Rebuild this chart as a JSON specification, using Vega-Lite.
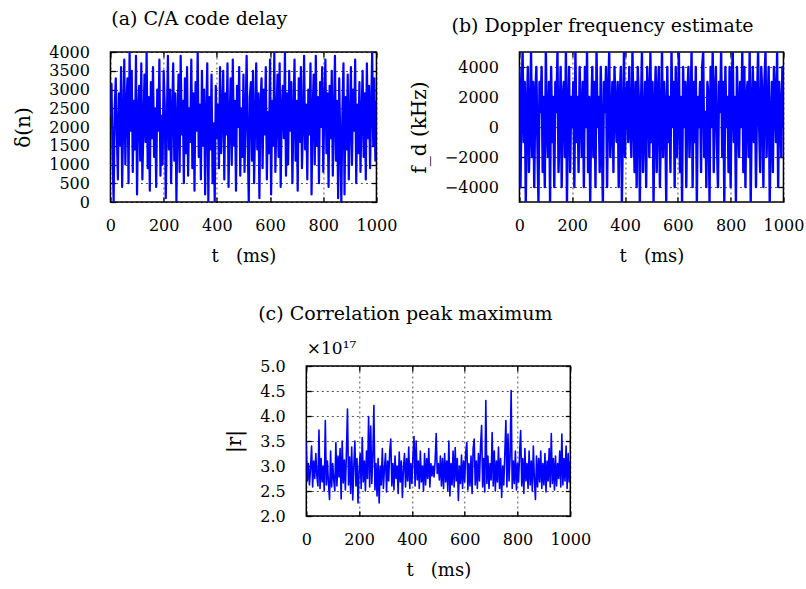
{
"$schema": "https://vega.github.io/schema/vega-lite/v6.json",
"background": "white",
"padding": {"left": 12, "top": 9, "right": 0, "bottom": 5},
"config": {
  "font": "DejaVu Serif",
  "view": {"stroke": "#000", "strokeWidth": 1.5},
  "title": {"font": "DejaVu Serif", "fontSize": 19, "fontWeight": "normal", "color": "#000", "offset": 15, "frame": "bounds", "anchor": "middle"},
  "axis": {"domain": false, "grid": true, "gridColor": "#000", "gridDash": [2, 3], "gridWidth": 0.8, "gridOpacity": 0.85,
           "ticks": true, "tickSize": -5, "tickWidth": 1.3, "tickColor": "#000",
           "labelFont": "DejaVu Serif", "labelFontSize": 16, "labelColor": "#000", "labelFlush": false, "labelOverlap": false,
           "titleFont": "DejaVu Serif", "titleFontSize": 18, "titleFontWeight": "normal", "titleColor": "#000", "zindex": 1},
  "axisX": {"labelPadding": 20, "titlePadding": 14, "format": "d"},
  "axisY": {"labelPadding": 26, "titlePadding": 15, "titleFontSize": 20}
},
"datasets": {
"a": [
{"t":0,"v":2300},{"t":4,"v":3150},{"t":8,"v":1200},{"t":12,"v":0},{"t":16,"v":2500},{"t":20,"v":3300},{"t":24,"v":1800},{"t":28,"v":600},{"t":32,"v":2900},{"t":36,"v":1500},
{"t":40,"v":3600},{"t":44,"v":400},{"t":48,"v":2200},{"t":52,"v":3800},{"t":56,"v":1000},{"t":60,"v":2600},{"t":64,"v":3300},{"t":68,"v":500},{"t":72,"v":4000},{"t":76,"v":1900},
{"t":80,"v":3500},{"t":84,"v":800},{"t":88,"v":2700},{"t":92,"v":1400},{"t":96,"v":3900},{"t":100,"v":200},{"t":104,"v":2400},{"t":108,"v":3100},{"t":112,"v":1100},{"t":116,"v":3700},
{"t":120,"v":600},{"t":124,"v":2000},{"t":128,"v":3400},{"t":132,"v":1600},{"t":136,"v":4000},{"t":140,"v":900},{"t":144,"v":2800},{"t":148,"v":300},{"t":152,"v":3200},{"t":156,"v":1700},
{"t":160,"v":3600},{"t":164,"v":1200},{"t":168,"v":2500},{"t":172,"v":400},{"t":176,"v":3000},{"t":180,"v":1900},{"t":184,"v":3800},{"t":188,"v":700},{"t":192,"v":2300},{"t":196,"v":1000},
{"t":200,"v":3500},{"t":204,"v":2600},{"t":208,"v":100},{"t":212,"v":2100},{"t":216,"v":3900},{"t":220,"v":1400},{"t":224,"v":3000},{"t":228,"v":500},{"t":232,"v":2400},{"t":236,"v":3700},
{"t":240,"v":1100},{"t":244,"v":2900},{"t":248,"v":0},{"t":252,"v":2200},{"t":256,"v":3400},{"t":260,"v":800},{"t":264,"v":3900},{"t":268,"v":1800},{"t":272,"v":2700},{"t":276,"v":500},
{"t":280,"v":3300},{"t":284,"v":1300},{"t":288,"v":3600},{"t":292,"v":700},{"t":296,"v":2500},{"t":300,"v":1600},{"t":304,"v":3800},{"t":308,"v":900},{"t":312,"v":2900},{"t":316,"v":300},
{"t":320,"v":3200},{"t":324,"v":1900},{"t":328,"v":4000},{"t":332,"v":1200},{"t":336,"v":2600},{"t":340,"v":600},{"t":344,"v":3500},{"t":348,"v":1500},{"t":352,"v":3000},{"t":356,"v":200},
{"t":360,"v":2300},{"t":364,"v":3700},{"t":368,"v":0},{"t":372,"v":2800},{"t":376,"v":1400},{"t":380,"v":3400},{"t":384,"v":500},{"t":388,"v":2100},{"t":392,"v":0},{"t":396,"v":3100},
{"t":400,"v":1700},{"t":404,"v":2600},{"t":408,"v":900},{"t":412,"v":3600},{"t":416,"v":1300},{"t":420,"v":2400},{"t":424,"v":3500},{"t":428,"v":600},{"t":432,"v":2900},{"t":436,"v":1800},
{"t":440,"v":3700},{"t":444,"v":400},{"t":448,"v":2200},{"t":452,"v":3300},{"t":456,"v":1000},{"t":460,"v":3800},{"t":464,"v":1500},{"t":468,"v":2700},{"t":472,"v":300},{"t":476,"v":3100},
{"t":480,"v":2000},{"t":484,"v":3600},{"t":488,"v":700},{"t":492,"v":2500},{"t":496,"v":1200},{"t":500,"v":3400},{"t":504,"v":800},{"t":508,"v":2300},{"t":512,"v":3900},{"t":516,"v":1600},
{"t":520,"v":0},{"t":524,"v":2800},{"t":528,"v":3200},{"t":532,"v":1100},{"t":536,"v":3500},{"t":540,"v":500},{"t":544,"v":2100},{"t":548,"v":3700},{"t":552,"v":1400},{"t":556,"v":2900},
{"t":560,"v":100},{"t":564,"v":2600},{"t":568,"v":3300},{"t":572,"v":900},{"t":576,"v":3000},{"t":580,"v":1800},{"t":584,"v":3600},{"t":588,"v":600},{"t":592,"v":2400},{"t":596,"v":1300},
{"t":600,"v":3800},{"t":604,"v":200},{"t":608,"v":2700},{"t":612,"v":1500},{"t":616,"v":4000},{"t":620,"v":800},{"t":624,"v":2200},{"t":628,"v":3400},{"t":632,"v":1200},{"t":636,"v":3700},
{"t":640,"v":400},{"t":644,"v":2500},{"t":648,"v":3100},{"t":652,"v":1700},{"t":656,"v":4000},{"t":660,"v":700},{"t":664,"v":2900},{"t":668,"v":1000},{"t":672,"v":3500},{"t":676,"v":1900},
{"t":680,"v":3200},{"t":684,"v":500},{"t":688,"v":2300},{"t":692,"v":3800},{"t":696,"v":1100},{"t":700,"v":2700},{"t":704,"v":300},{"t":708,"v":3300},{"t":712,"v":1600},{"t":716,"v":3600},
{"t":720,"v":900},{"t":724,"v":2100},{"t":728,"v":3900},{"t":732,"v":1400},{"t":736,"v":2600},{"t":740,"v":600},{"t":744,"v":3000},{"t":748,"v":1800},{"t":752,"v":3700},{"t":756,"v":200},
{"t":760,"v":2400},{"t":764,"v":3400},{"t":768,"v":1000},{"t":772,"v":3900},{"t":776,"v":1500},{"t":780,"v":2800},{"t":784,"v":500},{"t":788,"v":3200},{"t":792,"v":2000},{"t":796,"v":3600},
{"t":800,"v":800},{"t":804,"v":2500},{"t":808,"v":3800},{"t":812,"v":1300},{"t":816,"v":2900},{"t":820,"v":400},{"t":824,"v":3100},{"t":828,"v":1700},{"t":832,"v":3500},{"t":836,"v":700},
{"t":840,"v":2200},{"t":844,"v":3900},{"t":848,"v":1100},{"t":852,"v":2700},{"t":856,"v":100},{"t":860,"v":3300},{"t":864,"v":1600},{"t":868,"v":0},{"t":872,"v":2400},{"t":876,"v":3700},
{"t":880,"v":200},{"t":884,"v":2800},{"t":888,"v":1400},{"t":892,"v":3400},{"t":896,"v":600},{"t":900,"v":2100},{"t":904,"v":3600},{"t":908,"v":1000},{"t":912,"v":3000},{"t":916,"v":1900},
{"t":920,"v":3800},{"t":924,"v":500},{"t":928,"v":2600},{"t":932,"v":1300},{"t":936,"v":3200},{"t":940,"v":800},{"t":944,"v":2300},{"t":948,"v":3500},{"t":952,"v":1200},{"t":956,"v":2900},
{"t":960,"v":600},{"t":964,"v":3700},{"t":968,"v":1700},{"t":972,"v":3100},{"t":976,"v":900},{"t":980,"v":2500},{"t":984,"v":4000},{"t":988,"v":1500},{"t":992,"v":3300},{"t":996,"v":1100},
{"t":1000,"v":2700}
],
"b": [
{"t":0,"v":4000},{"t":4,"v":-4000},{"t":8,"v":2000},{"t":12,"v":5000},{"t":16,"v":-1000},{"t":20,"v":3000},{"t":24,"v":-5000},{"t":28,"v":1000},{"t":32,"v":4000},{"t":36,"v":-3000},
{"t":40,"v":0},{"t":44,"v":5000},{"t":48,"v":-2000},{"t":52,"v":3000},{"t":56,"v":-4000},{"t":60,"v":2000},{"t":64,"v":4000},{"t":68,"v":-1000},{"t":72,"v":-5000},{"t":76,"v":3000},
{"t":80,"v":1000},{"t":84,"v":4000},{"t":88,"v":-3000},{"t":92,"v":2000},{"t":96,"v":-4000},{"t":100,"v":5000},{"t":104,"v":0},{"t":108,"v":-2000},{"t":112,"v":3000},{"t":116,"v":-5000},
{"t":120,"v":4000},{"t":124,"v":-1000},{"t":128,"v":2000},{"t":132,"v":-4000},{"t":136,"v":3000},{"t":140,"v":1000},{"t":144,"v":5000},{"t":148,"v":-3000},{"t":152,"v":0},{"t":156,"v":4000},
{"t":160,"v":-4000},{"t":164,"v":2000},{"t":168,"v":3000},{"t":172,"v":-2000},{"t":176,"v":5000},{"t":180,"v":-5000},{"t":184,"v":1000},{"t":188,"v":4000},{"t":192,"v":-3000},{"t":196,"v":2000},
{"t":200,"v":0},{"t":204,"v":3000},{"t":208,"v":-4000},{"t":212,"v":5000},{"t":216,"v":-1000},{"t":220,"v":2000},{"t":224,"v":-3000},{"t":228,"v":4000},{"t":232,"v":1000},{"t":236,"v":-2000},
{"t":240,"v":3000},{"t":244,"v":-4000},{"t":248,"v":4000},{"t":252,"v":0},{"t":256,"v":5000},{"t":260,"v":-3000},{"t":264,"v":2000},{"t":268,"v":-5000},{"t":272,"v":1000},{"t":276,"v":4000},
{"t":280,"v":-2000},{"t":284,"v":3000},{"t":288,"v":-4000},{"t":292,"v":5000},{"t":296,"v":0},{"t":300,"v":2000},{"t":304,"v":-3000},{"t":308,"v":4000},{"t":312,"v":-1000},{"t":316,"v":-5000},
{"t":320,"v":3000},{"t":324,"v":1000},{"t":328,"v":4000},{"t":332,"v":-4000},{"t":336,"v":2000},{"t":340,"v":5000},{"t":344,"v":-2000},{"t":348,"v":0},{"t":352,"v":3000},{"t":356,"v":-3000},
{"t":360,"v":4000},{"t":364,"v":1000},{"t":368,"v":-1000},{"t":372,"v":3000},{"t":376,"v":-4000},{"t":380,"v":2000},{"t":384,"v":4000},{"t":388,"v":-5000},{"t":392,"v":0},{"t":396,"v":5000},
{"t":400,"v":-2000},{"t":404,"v":2000},{"t":408,"v":3000},{"t":412,"v":-1000},{"t":416,"v":4000},{"t":420,"v":0},{"t":424,"v":-2000},{"t":428,"v":5000},{"t":432,"v":1000},{"t":436,"v":-3000},
{"t":440,"v":3000},{"t":444,"v":-4000},{"t":448,"v":4000},{"t":452,"v":2000},{"t":456,"v":-5000},{"t":460,"v":1000},{"t":464,"v":5000},{"t":468,"v":-3000},{"t":472,"v":0},{"t":476,"v":3000},
{"t":480,"v":-4000},{"t":484,"v":4000},{"t":488,"v":2000},{"t":492,"v":-2000},{"t":496,"v":5000},{"t":500,"v":-1000},{"t":504,"v":3000},{"t":508,"v":-5000},{"t":512,"v":1000},{"t":516,"v":4000},
{"t":520,"v":-3000},{"t":524,"v":2000},{"t":528,"v":4000},{"t":532,"v":-4000},{"t":536,"v":0},{"t":540,"v":5000},{"t":544,"v":-2000},{"t":548,"v":3000},{"t":552,"v":1000},{"t":556,"v":-5000},
{"t":560,"v":4000},{"t":564,"v":-1000},{"t":568,"v":2000},{"t":572,"v":-3000},{"t":576,"v":5000},{"t":580,"v":0},{"t":584,"v":3000},{"t":588,"v":-4000},{"t":592,"v":4000},{"t":596,"v":-2000},
{"t":600,"v":1000},{"t":604,"v":5000},{"t":608,"v":-3000},{"t":612,"v":2000},{"t":616,"v":-5000},{"t":620,"v":4000},{"t":624,"v":0},{"t":628,"v":3000},{"t":632,"v":-4000},{"t":636,"v":2000},
{"t":640,"v":4000},{"t":644,"v":-2000},{"t":648,"v":1000},{"t":652,"v":5000},{"t":656,"v":-4000},{"t":660,"v":3000},{"t":664,"v":-1000},{"t":668,"v":4000},{"t":672,"v":-5000},{"t":676,"v":2000},
{"t":680,"v":0},{"t":684,"v":3000},{"t":688,"v":-3000},{"t":692,"v":4000},{"t":696,"v":5000},{"t":700,"v":-2000},{"t":704,"v":1000},{"t":708,"v":-4000},{"t":712,"v":3000},{"t":716,"v":2000},
{"t":720,"v":-5000},{"t":724,"v":4000},{"t":728,"v":0},{"t":732,"v":5000},{"t":736,"v":-3000},{"t":740,"v":2000},{"t":744,"v":4000},{"t":748,"v":-1000},{"t":752,"v":-4000},{"t":756,"v":3000},
{"t":760,"v":1000},{"t":764,"v":5000},{"t":768,"v":-2000},{"t":772,"v":3000},{"t":776,"v":-5000},{"t":780,"v":4000},{"t":784,"v":0},{"t":788,"v":2000},{"t":792,"v":-3000},{"t":796,"v":4000},
{"t":800,"v":-4000},{"t":804,"v":3000},{"t":808,"v":5000},{"t":812,"v":-1000},{"t":816,"v":2000},{"t":820,"v":-5000},{"t":824,"v":4000},{"t":828,"v":1000},{"t":832,"v":-2000},{"t":836,"v":3000},
{"t":840,"v":0},{"t":844,"v":5000},{"t":848,"v":-3000},{"t":852,"v":4000},{"t":856,"v":-4000},{"t":860,"v":2000},{"t":864,"v":3000},{"t":868,"v":-2000},{"t":872,"v":5000},{"t":876,"v":-5000},
{"t":880,"v":1000},{"t":884,"v":4000},{"t":888,"v":-1000},{"t":892,"v":3000},{"t":896,"v":-4000},{"t":900,"v":2000},{"t":904,"v":5000},{"t":908,"v":0},{"t":912,"v":-3000},{"t":916,"v":4000},
{"t":920,"v":2000},{"t":924,"v":-4000},{"t":928,"v":3000},{"t":932,"v":5000},{"t":936,"v":-2000},{"t":940,"v":1000},{"t":944,"v":4000},{"t":948,"v":-5000},{"t":952,"v":0},{"t":956,"v":3000},
{"t":960,"v":-3000},{"t":964,"v":4000},{"t":968,"v":2000},{"t":972,"v":-1000},{"t":976,"v":5000},{"t":980,"v":-4000},{"t":984,"v":3000},{"t":988,"v":1000},{"t":992,"v":-2000},{"t":996,"v":4000},
{"t":1000,"v":0}
],
"c": [
{"t":0,"v":3.50},{"t":4,"v":2.70},{"t":8,"v":3.05},{"t":12,"v":2.62},{"t":16,"v":2.95},{"t":20,"v":3.40},{"t":24,"v":2.58},{"t":28,"v":3.10},{"t":32,"v":2.75},{"t":36,"v":3.25},
{"t":40,"v":2.80},{"t":44,"v":2.60},{"t":48,"v":3.72},{"t":52,"v":2.55},{"t":56,"v":3.15},{"t":60,"v":2.68},{"t":64,"v":3.00},{"t":68,"v":2.50},{"t":72,"v":3.91},{"t":76,"v":2.62},
{"t":80,"v":3.10},{"t":84,"v":2.65},{"t":88,"v":2.33},{"t":92,"v":3.30},{"t":96,"v":2.58},{"t":100,"v":3.05},{"t":104,"v":2.72},{"t":108,"v":2.50},{"t":112,"v":3.47},{"t":116,"v":2.60},
{"t":120,"v":3.20},{"t":124,"v":2.78},{"t":128,"v":3.35},{"t":132,"v":2.34},{"t":136,"v":3.50},{"t":140,"v":2.66},{"t":144,"v":3.12},{"t":148,"v":2.52},{"t":152,"v":3.28},{"t":156,"v":4.14},
{"t":160,"v":2.62},{"t":164,"v":3.18},{"t":168,"v":2.45},{"t":172,"v":3.38},{"t":176,"v":2.32},{"t":180,"v":3.00},{"t":184,"v":3.50},{"t":188,"v":2.60},{"t":192,"v":3.15},{"t":196,"v":2.26},
{"t":200,"v":2.90},{"t":204,"v":3.25},{"t":208,"v":2.55},{"t":212,"v":3.57},{"t":216,"v":2.68},{"t":220,"v":3.10},{"t":224,"v":2.50},{"t":228,"v":3.30},{"t":232,"v":2.75},{"t":236,"v":3.99},
{"t":240,"v":2.58},{"t":244,"v":3.80},{"t":248,"v":2.65},{"t":252,"v":3.20},{"t":256,"v":4.21},{"t":260,"v":2.52},{"t":264,"v":3.05},{"t":268,"v":2.40},{"t":272,"v":3.15},{"t":276,"v":2.26},
{"t":280,"v":3.00},{"t":284,"v":2.62},{"t":288,"v":3.35},{"t":292,"v":2.55},{"t":296,"v":2.95},{"t":300,"v":3.25},{"t":304,"v":2.48},{"t":308,"v":3.10},{"t":312,"v":2.70},{"t":316,"v":3.30},
{"t":320,"v":3.54},{"t":324,"v":2.60},{"t":328,"v":3.05},{"t":332,"v":2.52},{"t":336,"v":3.20},{"t":340,"v":2.75},{"t":344,"v":3.00},{"t":348,"v":2.45},{"t":352,"v":3.28},{"t":356,"v":2.68},
{"t":360,"v":3.10},{"t":364,"v":2.37},{"t":368,"v":2.95},{"t":372,"v":3.25},{"t":376,"v":2.58},{"t":380,"v":3.15},{"t":384,"v":2.70},{"t":388,"v":3.38},{"t":392,"v":2.55},{"t":396,"v":3.05},
{"t":400,"v":2.65},{"t":404,"v":3.20},{"t":408,"v":3.59},{"t":412,"v":2.60},{"t":416,"v":3.50},{"t":420,"v":2.72},{"t":424,"v":3.10},{"t":428,"v":2.55},{"t":432,"v":3.30},{"t":436,"v":2.68},
{"t":440,"v":3.00},{"t":444,"v":2.50},{"t":448,"v":3.25},{"t":452,"v":2.62},{"t":456,"v":3.15},{"t":460,"v":2.75},{"t":464,"v":3.35},{"t":468,"v":2.58},{"t":472,"v":3.05},{"t":476,"v":2.80},
{"t":480,"v":3.00},{"t":484,"v":2.78},{"t":488,"v":3.10},{"t":492,"v":3.65},{"t":496,"v":2.85},{"t":500,"v":3.05},{"t":504,"v":2.72},{"t":508,"v":3.20},{"t":512,"v":2.60},{"t":516,"v":3.15},
{"t":520,"v":2.55},{"t":524,"v":3.25},{"t":528,"v":2.68},{"t":532,"v":3.10},{"t":536,"v":2.50},{"t":540,"v":3.50},{"t":544,"v":2.40},{"t":548,"v":3.05},{"t":552,"v":2.62},{"t":556,"v":3.30},
{"t":560,"v":2.58},{"t":564,"v":3.37},{"t":568,"v":2.70},{"t":572,"v":3.15},{"t":576,"v":2.31},{"t":580,"v":3.00},{"t":584,"v":2.65},{"t":588,"v":3.22},{"t":592,"v":2.55},{"t":596,"v":3.10},
{"t":600,"v":2.68},{"t":604,"v":3.28},{"t":608,"v":3.47},{"t":612,"v":2.52},{"t":616,"v":3.05},{"t":620,"v":2.60},{"t":624,"v":3.20},{"t":628,"v":2.45},{"t":632,"v":3.35},{"t":636,"v":3.54},
{"t":640,"v":2.62},{"t":644,"v":3.10},{"t":648,"v":2.55},{"t":652,"v":3.25},{"t":656,"v":2.70},{"t":660,"v":3.40},{"t":664,"v":3.81},{"t":668,"v":2.58},{"t":672,"v":3.15},{"t":676,"v":2.48},
{"t":680,"v":4.31},{"t":684,"v":2.65},{"t":688,"v":3.20},{"t":692,"v":2.55},{"t":696,"v":3.05},{"t":700,"v":2.72},{"t":704,"v":3.67},{"t":708,"v":2.60},{"t":712,"v":3.30},{"t":716,"v":2.50},
{"t":720,"v":3.10},{"t":724,"v":2.68},{"t":728,"v":3.38},{"t":732,"v":2.55},{"t":736,"v":3.15},{"t":740,"v":2.37},{"t":744,"v":3.00},{"t":748,"v":2.62},{"t":752,"v":3.25},{"t":756,"v":3.91},
{"t":760,"v":2.58},{"t":764,"v":3.64},{"t":768,"v":2.70},{"t":772,"v":3.20},{"t":776,"v":4.51},{"t":780,"v":2.55},{"t":784,"v":3.10},{"t":788,"v":2.65},{"t":792,"v":3.30},{"t":796,"v":2.52},
{"t":800,"v":3.05},{"t":804,"v":2.68},{"t":808,"v":3.25},{"t":812,"v":3.71},{"t":816,"v":2.60},{"t":820,"v":3.15},{"t":824,"v":2.45},{"t":828,"v":3.35},{"t":832,"v":2.70},{"t":836,"v":3.05},
{"t":840,"v":2.55},{"t":844,"v":3.30},{"t":848,"v":2.62},{"t":852,"v":3.10},{"t":856,"v":2.50},{"t":860,"v":3.40},{"t":864,"v":2.72},{"t":868,"v":2.33},{"t":872,"v":3.20},{"t":876,"v":2.58},
{"t":880,"v":3.15},{"t":884,"v":2.68},{"t":888,"v":3.30},{"t":892,"v":2.55},{"t":896,"v":3.05},{"t":900,"v":2.62},{"t":904,"v":3.25},{"t":908,"v":2.48},{"t":912,"v":3.10},{"t":916,"v":2.70},
{"t":920,"v":3.35},{"t":924,"v":2.58},{"t":928,"v":3.65},{"t":932,"v":2.65},{"t":936,"v":3.15},{"t":940,"v":2.52},{"t":944,"v":3.20},{"t":948,"v":2.60},{"t":952,"v":3.05},{"t":956,"v":2.75},
{"t":960,"v":3.30},{"t":964,"v":2.58},{"t":968,"v":3.64},{"t":972,"v":2.62},{"t":976,"v":3.15},{"t":980,"v":2.70},{"t":984,"v":3.40},{"t":988,"v":2.55},{"t":992,"v":3.25},{"t":996,"v":2.68},
{"t":1000,"v":3.10}
]
},
"vconcat": [
  {
    "hconcat": [
      {
        "title": {"text": "(a) C/A code delay", "dx": -6},
        "width": 266, "height": 150,
        "data": {"name": "a"},
        "layer": [
          {"mark": {"type": "line", "color": "#0000ff", "strokeWidth": 2.2, "strokeJoin": "round", "clip": true},
           "encoding": {
             "x": {"field": "t", "type": "quantitative", "scale": {"domain": [0, 1000], "nice": false},
                   "axis": {"values": [0, 200, 400, 600, 800, 1000], "title": "t\u00a0\u00a0\u00a0(ms)"}},
             "y": {"field": "v", "type": "quantitative", "scale": {"domain": [0, 4000], "nice": false},
                   "axis": {"values": [0, 500, 1000, 1500, 2000, 2500, 3000, 3500, 4000], "format": "d", "title": "δ(n)"}}
           }},
          {"mark": {"type": "line", "opacity": 0},
           "encoding": {
             "x": {"field": "t", "type": "quantitative", "axis": {"orient": "top", "labels": false, "grid": false, "title": null, "values": [0, 200, 400, 600, 800, 1000]}},
             "y": {"field": "v", "type": "quantitative", "axis": {"orient": "right", "labels": false, "grid": false, "title": null, "values": [0, 500, 1000, 1500, 2000, 2500, 3000, 3500, 4000]}}
           }}
        ],
        "resolve": {"axis": {"x": "independent", "y": "independent"}}
      },
      {
        "title": {"text": "(b) Doppler frequency estimate", "dx": -4},
        "width": 264, "height": 150,
        "data": {"name": "b"},
        "layer": [
          {"mark": {"type": "line", "color": "#0000ff", "strokeWidth": 2.4, "strokeJoin": "round", "clip": true},
           "encoding": {
             "x": {"field": "t", "type": "quantitative", "scale": {"domain": [0, 1000], "nice": false},
                   "axis": {"values": [0, 200, 400, 600, 800, 1000], "title": "t\u00a0\u00a0\u00a0(ms)"}},
             "y": {"field": "v", "type": "quantitative", "scale": {"domain": [-5000, 5000], "nice": false},
                   "axis": {"values": [-4000, -2000, 0, 2000, 4000], "format": "d", "title": "f_d (kHz)"}}
           }},
          {"mark": {"type": "line", "opacity": 0},
           "encoding": {
             "x": {"field": "t", "type": "quantitative", "axis": {"orient": "top", "labels": false, "grid": false, "title": null, "values": [0, 200, 400, 600, 800, 1000]}},
             "y": {"field": "v", "type": "quantitative", "axis": {"orient": "right", "labels": false, "grid": false, "title": null, "values": [-4000, -2000, 0, 2000, 4000]}}
           }}
        ],
        "resolve": {"axis": {"x": "independent", "y": "independent"}}
      }
    ],
    "spacing": 10
  },
  {
    "title": {"text": "(c) Correlation peak maximum", "offset": 15, "dx": -11},
    "width": 264, "height": 150,
    "data": {"name": "c"},
    "layer": [
      {"mark": {"type": "line", "color": "#0000ff", "strokeWidth": 1.6, "strokeJoin": "round", "clip": true},
       "encoding": {
         "x": {"field": "t", "type": "quantitative", "scale": {"domain": [0, 1000], "nice": false},
               "axis": {"values": [0, 200, 400, 600, 800, 1000], "title": "t\u00a0\u00a0\u00a0(ms)"}},
         "y": {"field": "v", "type": "quantitative", "scale": {"domain": [2, 5], "nice": false},
               "axis": {"values": [2.0, 2.5, 3.0, 3.5, 4.0, 4.5, 5.0], "format": ".1f", "title": "|r|"}}
       }},
      {"mark": {"type": "line", "opacity": 0},
       "encoding": {
         "x": {"field": "t", "type": "quantitative", "axis": {"orient": "top", "labels": false, "grid": false, "title": "×10¹⁷", "titleAnchor": "start", "titleAlign": "left", "titlePadding": 8, "titleFontSize": 17, "values": [0, 200, 400, 600, 800, 1000]}},
         "y": {"field": "v", "type": "quantitative", "axis": {"orient": "right", "labels": false, "grid": false, "title": "\u00a0", "titleFontSize": 9, "titlePadding": 28, "values": [2.0, 2.5, 3.0, 3.5, 4.0, 4.5, 5.0]}}
       }}
    ],
    "resolve": {"axis": {"x": "independent", "y": "independent"}}
  }
],
"spacing": 38,
"center": true
}
